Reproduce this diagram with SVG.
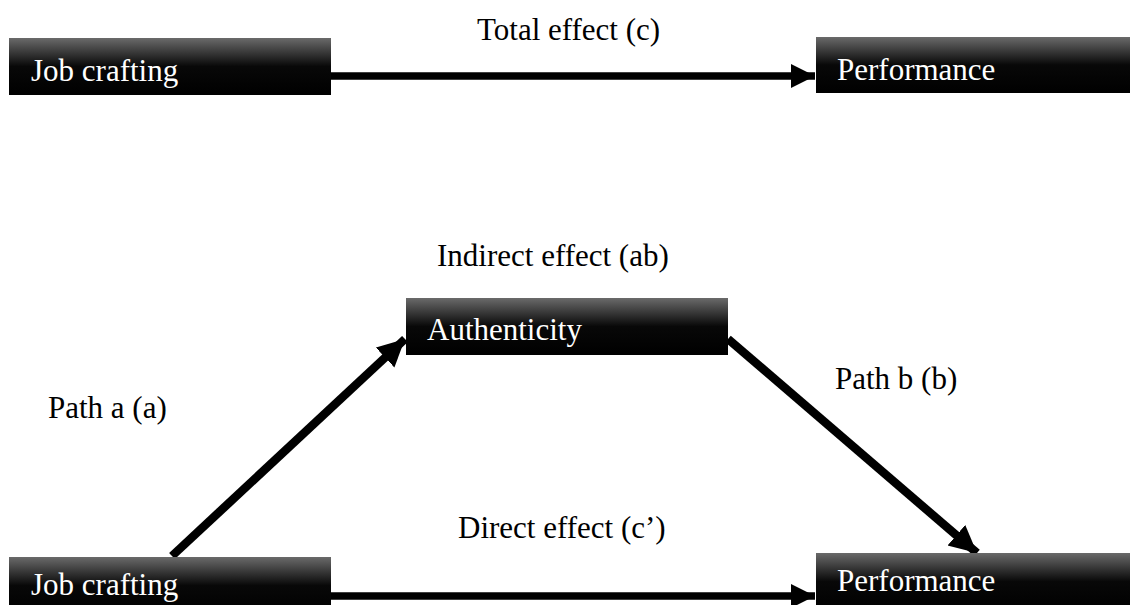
<svg xmlns="http://www.w3.org/2000/svg" width="1130" height="605" viewBox="0 0 1130 605">
<defs>
<linearGradient id="boxg" x1="0" y1="0" x2="0" y2="1">
<stop offset="0" stop-color="#6a6a6a"/>
<stop offset="0.5" stop-color="#080808"/>
<stop offset="1" stop-color="#000"/>
</linearGradient>
<marker id="ah" viewBox="0 0 10 10" refX="10" refY="5" markerWidth="3.2" markerHeight="3.4" markerUnits="strokeWidth" orient="auto">
<path d="M0,0 L10,5 L0,10 Z" fill="#000"/>
</marker>
</defs>
<style>
.box{fill:url(#boxg);}
.nt{font-family:"Liberation Serif","Times New Roman",serif;font-size:31px;fill:#fff;}
.lb{font-family:"Liberation Serif","Times New Roman",serif;font-size:31px;fill:#000;}
.cn{stroke:#000;stroke-width:7.5;fill:none;marker-end:url(#ah);}
.dg{stroke-width:8.5;}
</style>
<g id="connectors">
<line class="cn" x1="331" y1="76" x2="815" y2="76"/>
<line class="cn" x1="331" y1="596" x2="815" y2="596"/>
<line class="cn dg" x1="172" y1="556" x2="405" y2="339"/>
<line class="cn dg" x1="728" y1="339" x2="977" y2="553"/>
</g>
<g id="label-total"><text class="lb" x="477" y="40">Total effect (c)</text></g>
<g id="label-indirect"><text class="lb" x="437" y="266">Indirect effect (ab)</text></g>
<g id="label-patha"><text class="lb" x="48" y="418">Path a (a)</text></g>
<g id="label-pathb"><text class="lb" x="835" y="389">Path b (b)</text></g>
<g id="label-direct"><text class="lb" x="458" y="538">Direct effect (c’)</text></g>
<g id="node-jc-top"><rect class="box" x="9" y="38" width="322" height="57"/><text class="nt" x="31" y="81">Job crafting</text></g>
<g id="node-perf-top"><rect class="box" x="816" y="37" width="314" height="56"/><text class="nt" x="837" y="80">Performance</text></g>
<g id="node-auth"><rect class="box" x="406" y="298" width="322" height="57"/><text class="nt" x="427" y="340">Authenticity</text></g>
<g id="node-jc-bot"><rect class="box" x="9" y="557" width="322" height="57"/><text class="nt" x="31" y="595">Job crafting</text></g>
<g id="node-perf-bot"><rect class="box" x="816" y="553" width="314" height="57"/><text class="nt" x="837" y="591">Performance</text></g>
</svg>
